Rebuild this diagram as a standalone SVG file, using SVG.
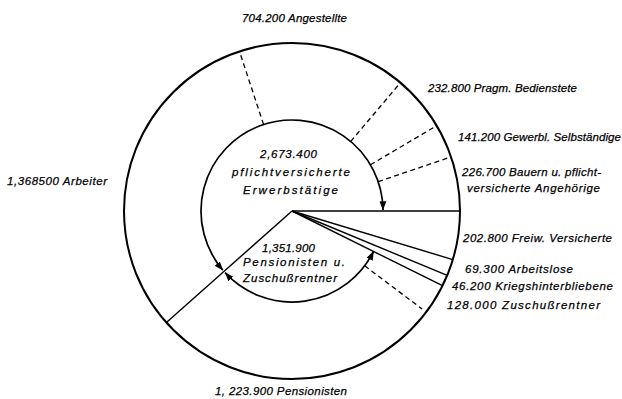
<svg xmlns="http://www.w3.org/2000/svg" width="622" height="399" viewBox="0 0 622 399">
<style>
text { font-family: "Liberation Sans", Arial, sans-serif; font-style: italic; font-size: 11.5px; fill: #000; stroke: #000; stroke-width: 0.25; }
.ring { fill: none; stroke: #000; stroke-width: 2; }
.solid { fill: none; stroke: #000; stroke-width: 1.4; }
.dash { fill: none; stroke: #000; stroke-width: 1.3; stroke-dasharray: 5 3.5; }
.arr { fill: none; stroke: #000; stroke-width: 1.7; marker-start: url(#ah); marker-end: url(#ah); }
</style>
<defs>
<marker id="ah" viewBox="0 0 10 10" refX="9.5" refY="5" markerWidth="9" markerHeight="9" markerUnits="userSpaceOnUse" orient="auto-start-reverse">
<path d="M0,1.2 L10,5 L0,8.8 z" fill="#000"/>
</marker>
</defs>
<rect width="622" height="399" fill="#fff"/>

<g id="ring">
<circle class="ring" cx="292" cy="211" r="168"/>
</g>

<g id="connectors">
<line class="solid" x1="292" y1="211" x2="460" y2="211"/>
<line class="solid" x1="292" y1="211" x2="452.8" y2="259.6"/>
<line class="solid" x1="292" y1="211" x2="447.2" y2="275.4"/>
<line class="solid" x1="292" y1="211" x2="442.5" y2="285.7"/>
<line class="solid" x1="292" y1="211" x2="166.4" y2="322.5"/>
<line class="dash" x1="263.6" y1="124.6" x2="239.5" y2="51.4"/>
<line class="dash" x1="350.7" y1="141.5" x2="400.4" y2="82.7"/>
<line class="dash" x1="370.4" y1="164.8" x2="436.7" y2="125.7"/>
<line class="dash" x1="378.1" y1="181.7" x2="451.0" y2="156.9"/>
<line class="dash" x1="364.7" y1="265.8" x2="422.2" y2="309.1"/>
<path class="arr" d="M222.8,270.1 A91,91 0 1 1 383.0,209.9"/>
<path class="arr" d="M373.5,251.5 A91,91 0 0 1 225.1,272.7"/>
</g>

<g id="center-upper">
<text x="260" y="158" textLength="57" lengthAdjust="spacing">2,673.400</text>
<text x="232" y="176" textLength="118" lengthAdjust="spacing">pflichtversicherte</text>
<text x="243" y="194" textLength="95" lengthAdjust="spacing">Erwerbstätige</text>
</g>
<g id="center-lower">
<text x="262" y="252" textLength="53" lengthAdjust="spacing">1,351.900</text>
<text x="243" y="266" textLength="102" lengthAdjust="spacing">Pensionisten u.</text>
<text x="243" y="282" textLength="94" lengthAdjust="spacing">Zuschußrentner</text>
</g>
<g id="angestellte"><text x="242" y="22" textLength="105" lengthAdjust="spacing">704.200 Angestellte</text></g>
<g id="pragm"><text x="428" y="92" textLength="149" lengthAdjust="spacing">232.800 Pragm. Bedienstete</text></g>
<g id="gewerbl"><text x="458" y="141" textLength="163" lengthAdjust="spacing">141.200 Gewerbl. Selbständige</text></g>
<g id="bauern">
<text x="462" y="176" textLength="139" lengthAdjust="spacing">226.700 Bauern u. pflicht-</text>
<text x="467" y="192" textLength="133" lengthAdjust="spacing">versicherte Angehörige</text>
</g>
<g id="freiw"><text x="463" y="242" textLength="149" lengthAdjust="spacing">202.800 Freiw. Versicherte</text></g>
<g id="arbeitslose"><text x="465" y="273" textLength="108" lengthAdjust="spacing">69.300 Arbeitslose</text></g>
<g id="kriegs"><text x="452" y="290" textLength="161" lengthAdjust="spacing">46.200 Kriegshinterbliebene</text></g>
<g id="zuschuss"><text x="447" y="309" textLength="153" lengthAdjust="spacing">128.000 Zuschußrentner</text></g>
<g id="arbeiter"><text x="7" y="185" textLength="100" lengthAdjust="spacing">1,368500 Arbeiter</text></g>
<g id="pensionisten"><text x="215" y="395" textLength="132" lengthAdjust="spacing">1, 223.900 Pensionisten</text></g>
</svg>
